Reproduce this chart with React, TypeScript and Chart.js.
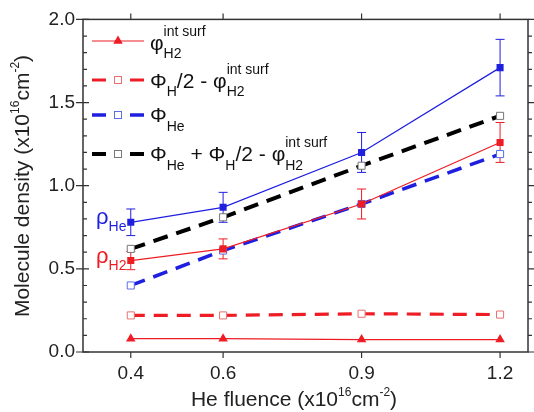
import React, { useEffect, useRef } from "react";
import { Chart, registerables } from "chart.js";
Chart.register(...registerables);

const fluence = [0.4, 0.6, 0.9, 1.2];
const phiH2Surf = [0.08, 0.08, 0.075, 0.075];
const phiHHalfMinus = [0.22, 0.22, 0.23, 0.225];
const phiHe = [0.4, 0.61, 0.89, 1.19];
const phiHeSum = [0.62, 0.81, 1.12, 1.42];
const rhoHe = [0.78, 0.87, 1.2, 1.71];
const rhoHeErr = [0.08, 0.09, 0.12, 0.17];
const rhoH2 = [0.55, 0.62, 0.89, 1.26];
const rhoH2Err = [0.055, 0.06, 0.09, 0.12];
const xTicks = [0.4, 0.6, 0.9, 1.2];
const yMajorTicks = [0, 0.5, 1.0, 1.5, 2.0];

const FONT = '"Liberation Sans", Arial, sans-serif';
const RED = "#ee1c24";
const BLUE = "#1f1fe0";
const AXIS = "#333";

type Seg = { t?: string; sup?: string; sub?: string };

function rich(
  ctx: CanvasRenderingContext2D,
  x: number,
  y: number,
  segs: Seg[],
  size: number,
  small: number,
  supOff: number,
  subOff: number,
  measureOnly = false
) {
  let cx = x;
  for (const s of segs) {
    if (s.t) {
      ctx.font = `${size}px ${FONT}`;
      if (!measureOnly) ctx.fillText(s.t, cx, y);
      cx += ctx.measureText(s.t).width;
    }
    if (s.sup || s.sub) {
      ctx.font = `${small}px ${FONT}`;
      let w = 0;
      if (s.sup) {
        if (!measureOnly) ctx.fillText(s.sup, cx, y + supOff);
        w = Math.max(w, ctx.measureText(s.sup).width);
      }
      if (s.sub) {
        if (!measureOnly) ctx.fillText(s.sub, cx, y + subOff);
        w = Math.max(w, ctx.measureText(s.sub).width);
      }
      cx += w;
    }
  }
  return cx - x;
}

function drawTri(ctx: CanvasRenderingContext2D, x: number, y: number, r: number, color: string) {
  ctx.beginPath();
  for (let k = 0; k < 3; k++) {
    const ang = (k * 2 * Math.PI) / 3;
    const px = x + Math.sin(ang) * r;
    const py = y - Math.cos(ang) * r;
    if (k === 0) ctx.moveTo(px, py);
    else ctx.lineTo(px, py);
  }
  ctx.closePath();
  ctx.fillStyle = color;
  ctx.fill();
}

function drawSq(ctx: CanvasRenderingContext2D, x: number, y: number, s: number, stroke: string) {
  ctx.fillStyle = "#fff";
  ctx.fillRect(x - s / 2, y - s / 2, s, s);
  ctx.strokeStyle = stroke;
  ctx.lineWidth = 1;
  ctx.setLineDash([]);
  ctx.strokeRect(x - s / 2, y - s / 2, s, s);
}

const deco = {
  id: "deco",
  beforeDatasetsDraw(chart: any) {
    const { ctx, scales } = chart;
    const xs = scales.x;
    const ys = scales.y;
    ctx.save();
    const drawErr = (vals: number[], errs: number[], color: string) => {
      ctx.strokeStyle = color;
      ctx.lineWidth = 1;
      fluence.forEach((f, i) => {
        const px = xs.getPixelForValue(f);
        const top = ys.getPixelForValue(vals[i] + errs[i]);
        const bot = ys.getPixelForValue(vals[i] - errs[i]);
        ctx.beginPath();
        ctx.moveTo(px, top);
        ctx.lineTo(px, bot);
        ctx.moveTo(px - 4.5, top);
        ctx.lineTo(px + 4.5, top);
        ctx.moveTo(px - 4.5, bot);
        ctx.lineTo(px + 4.5, bot);
        ctx.stroke();
      });
    };
    drawErr(rhoHe, rhoHeErr, BLUE);
    drawErr(rhoH2, rhoH2Err, RED);
    ctx.restore();
  },
  afterDraw(chart: any) {
    const { ctx, chartArea: a, scales } = chart;
    const xs = scales.x;
    const ys = scales.y;
    ctx.save();
    // frame
    ctx.strokeStyle = AXIS;
    ctx.lineWidth = 1.5;
    ctx.setLineDash([]);
    ctx.strokeRect(a.left, a.top, a.right - a.left, a.bottom - a.top);
    // x ticks (top & bottom, outward)
    ctx.lineWidth = 1.2;
    ctx.beginPath();
    xTicks.forEach((v) => {
      const px = xs.getPixelForValue(v);
      ctx.moveTo(px, a.bottom);
      ctx.lineTo(px, a.bottom + 6);
      ctx.moveTo(px, a.top);
      ctx.lineTo(px, a.top - 6);
    });
    // y ticks
    for (let k = 0; k <= 20; k++) {
      const v = k / 10;
      const py = ys.getPixelForValue(v);
      if (k % 5 === 0) {
        ctx.moveTo(a.left - 7, py);
        ctx.lineTo(a.left + 6, py);
        ctx.moveTo(a.right, py);
        ctx.lineTo(a.right + 6, py);
      } else {
        ctx.moveTo(a.left, py);
        ctx.lineTo(a.left + 4, py);
        ctx.moveTo(a.right, py);
        ctx.lineTo(a.right + 4, py);
      }
    }
    ctx.stroke();

    // legend
    const lx0 = 92;
    const lx1 = 144;
    const mx = 118;
    const rows = [41, 80, 115, 154];
    ctx.strokeStyle = RED;
    ctx.lineWidth = 1.2;
    ctx.beginPath();
    ctx.moveTo(lx0, rows[0]);
    ctx.lineTo(lx1, rows[0]);
    ctx.stroke();
    drawTri(ctx, mx, rows[0], 5.5, RED);
    const dashedRow = (y: number, color: string, w: number, sq: string) => {
      ctx.strokeStyle = color;
      ctx.lineWidth = w;
      ctx.setLineDash([]);
      ctx.beginPath();
      ctx.moveTo(lx0, y);
      ctx.lineTo(lx0 + 14, y);
      ctx.moveTo(lx1 - 14, y);
      ctx.lineTo(lx1, y);
      ctx.stroke();
      drawSq(ctx, mx, y, 7, sq);
    };
    dashedRow(rows[1], RED, 3.2, "#e87070");
    dashedRow(rows[2], BLUE, 3.5, "#5a6ee8");
    dashedRow(rows[3], "#000", 4, "#777");

    ctx.fillStyle = "#111";
    ctx.textBaseline = "alphabetic";
    ctx.textAlign = "left";
    const TS = 21;
    const SS = 14;
    rich(ctx, 150, 50, [{ t: "φ", sup: "int surf", sub: "H2" }], TS, SS, -14, 8);
    rich(ctx, 150, 88, [{ t: "Φ", sub: "H" }, { t: "/2 - φ", sup: "int surf", sub: "H2" }], TS, SS, -14, 8);
    rich(ctx, 150, 122, [{ t: "Φ", sub: "He" }], TS, SS, -14, 9);
    rich(
      ctx,
      150,
      161,
      [{ t: "Φ", sub: "He" }, { t: " + Φ", sub: "H" }, { t: "/2 - φ", sup: "int surf", sub: "H2" }],
      TS,
      SS,
      -14,
      9
    );

    // rho labels
    ctx.fillStyle = BLUE;
    rich(ctx, 96, 224, [{ t: "ρ", sub: "He" }], 22, 14, -12, 7);
    ctx.fillStyle = RED;
    rich(ctx, 96, 263, [{ t: "ρ", sub: "H2" }], 22, 14, -12, 7);

    // axis titles
    ctx.fillStyle = "#222";
    const titleSegs: Seg[] = [{ t: "He fluence (x10", sup: "16" }, { t: "cm", sup: "-2" }, { t: ")" }];
    const wX = rich(ctx, 0, 0, titleSegs, 21, 12, -10, 0, true);
    rich(ctx, 294 - wX / 2, 406, titleSegs, 21, 12, -10, 0);
    const ySegs: Seg[] = [{ t: "Molecule density (x10", sup: "16" }, { t: "cm", sup: "-2" }, { t: ")" }];
    const wY = rich(ctx, 0, 0, ySegs, 21, 12, -10, 0, true);
    ctx.translate(29, 186);
    ctx.rotate(-Math.PI / 2);
    rich(ctx, -wY / 2, 0, ySegs, 21, 12, -10, 0);
    ctx.restore();
  },
};

export default function App() {
  const ref = useRef<HTMLCanvasElement | null>(null);
  useEffect(() => {
    if (!ref.current) return;
    const pts = (ys: number[]) => fluence.map((x, i) => ({ x, y: ys[i] }));
    const chart = new Chart(ref.current, {
      type: "line",
      data: {
        datasets: [
          {
            label: "rhoHe",
            data: pts(rhoHe),
            borderColor: BLUE,
            borderWidth: 1.2,
            pointStyle: "rect",
            pointRadius: 5,
            pointBackgroundColor: BLUE,
            pointBorderColor: BLUE,
            pointBorderWidth: 0,
          },
          {
            label: "rhoH2",
            data: pts(rhoH2),
            borderColor: RED,
            borderWidth: 1.2,
            pointStyle: "rect",
            pointRadius: 5,
            pointBackgroundColor: RED,
            pointBorderColor: RED,
            pointBorderWidth: 0,
          },
          {
            label: "phiH2Surf",
            data: pts(phiH2Surf),
            borderColor: RED,
            borderWidth: 1.2,
            pointStyle: "triangle",
            pointRadius: 5.5,
            pointBackgroundColor: RED,
            pointBorderColor: RED,
            pointBorderWidth: 0,
          },
          {
            label: "phiHHalfMinus",
            data: pts(phiHHalfMinus),
            borderColor: RED,
            borderWidth: 3.2,
            borderDash: [14, 9],
            pointStyle: "rect",
            pointRadius: 5,
            pointBackgroundColor: "#fff",
            pointBorderColor: "#e87070",
            pointBorderWidth: 1,
          },
          {
            label: "phiHe",
            data: pts(phiHe),
            borderColor: BLUE,
            borderWidth: 3.5,
            borderDash: [15, 9],
            pointStyle: "rect",
            pointRadius: 5,
            pointBackgroundColor: "#fff",
            pointBorderColor: "#5a6ee8",
            pointBorderWidth: 1,
          },
          {
            label: "phiHeSum",
            data: pts(phiHeSum),
            borderColor: "#000",
            borderWidth: 4,
            borderDash: [15, 9],
            pointStyle: "rect",
            pointRadius: 5,
            pointBackgroundColor: "#fff",
            pointBorderColor: "#777",
            pointBorderWidth: 1,
          },
        ],
      },
      options: {
        responsive: false,
        animation: false,
        devicePixelRatio: 1,
        layout: { padding: { left: 0, right: 4, top: 17, bottom: 0 } },
        plugins: { legend: { display: false }, tooltip: { enabled: false } },
        scales: {
          x: {
            type: "linear",
            min: 0.2965,
            max: 1.2605,
            afterBuildTicks: (s: any) => {
              s.ticks = xTicks.map((v) => ({ value: v }));
            },
            afterFit: (s: any) => {
              s.height = 60;
            },
            grid: { display: false, drawTicks: false },
            border: { display: false },
            ticks: {
              padding: 10,
              color: "#222",
              font: { family: FONT, size: 19 },
              callback: (v: any) => Number(v).toFixed(1),
              maxRotation: 0,
              autoSkip: false,
            },
          },
          y: {
            type: "linear",
            min: 0,
            max: 2,
            afterBuildTicks: (s: any) => {
              s.ticks = yMajorTicks.map((v) => ({ value: v }));
            },
            afterFit: (s: any) => {
              s.width = 83;
            },
            grid: { display: false, drawTicks: false },
            border: { display: false },
            ticks: {
              padding: 8,
              color: "#222",
              font: { family: FONT, size: 19 },
              callback: (v: any) => Number(v).toFixed(1),
            },
          },
        },
      },
      plugins: [deco],
    });
    return () => chart.destroy();
  }, []);
  return (
    <div style={{ position: "fixed", left: 0, top: 0, width: 534, height: 412, background: "#fff" }}>
      <canvas ref={ref} width={534} height={412} style={{ width: 534, height: 412 }} />
    </div>
  );
}
